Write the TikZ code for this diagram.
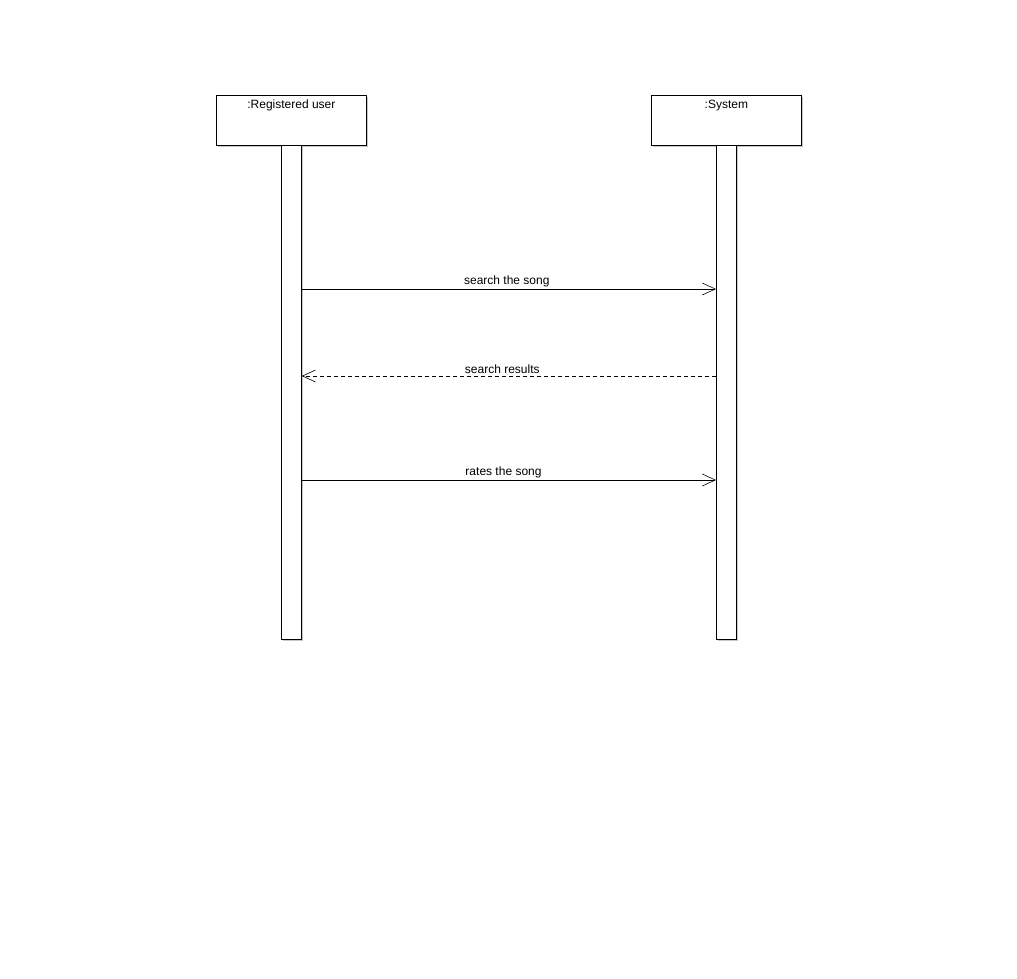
\documentclass[tikz,border=0pt]{standalone}
\usepackage{fontspec}
\setmainfont{Liberation Sans}
\usetikzlibrary{arrows.meta,positioning,shadows}
\begin{document}
\begin{tikzpicture}[x=1pt,y=1pt,
  font=\fontsize{12}{14}\selectfont,
  shadowed/.style={drop shadow={shadow xshift=2pt, shadow yshift=-2pt, fill=black!22, opacity=1}},
  headbox/.style={draw, line width=0.8pt, fill=white, shadowed, minimum width=150pt, minimum height=50pt, inner sep=0pt, anchor=north west},
  bar/.style={draw, line width=0.8pt, fill=white, shadowed, minimum width=20pt, minimum height=494pt, inner sep=0pt, anchor=north west},
  msg/.style={line width=0.6pt, -{Straight Barb[length=13pt,width=12pt,line width=0.6pt]}},
  reply/.style={msg, dash pattern=on 4pt off 3pt},
  lbl/.style={anchor=south, inner sep=1pt}
]
\useasboundingbox (0,0) rectangle (1017,-978);
\fill[white] (0,0) rectangle (1017,-978);
% participants
\node[headbox] (user) at (216,-95) {};
\node[anchor=north, inner sep=0pt] (usert) at ([yshift=-4.5pt]user.north) {:Registered user};
\node[headbox] (sys) at (651,-95) {};
\node[anchor=north, inner sep=0pt] (syst) at ([yshift=-4.5pt]sys.north) {:System};
% activation bars
\node[bar] (ubar) at (281,-145) {};
\node[bar] (sbar) at (716,-145) {};
% message points
\coordinate (m1a) at (ubar.east |- 0,-289);
\coordinate (m1b) at (sbar.west |- 0,-289);
\coordinate (m2a) at (sbar.west |- 0,-376);
\coordinate (m2b) at (ubar.east |- 0,-376);
\coordinate (m3a) at (ubar.east |- 0,-480);
\coordinate (m3b) at (sbar.west |- 0,-480);
% messages
\draw[msg] (m1a) -- (m1b) node[lbl, pos=0.495, yshift=1pt] {search the song};
\draw[reply] (m2a) -- (m2b) node[lbl, pos=0.516, yshift=1pt] {search results};
\draw[msg] (m3a) -- (m3b) node[lbl, pos=0.487, yshift=1pt] {rates the song};
\end{tikzpicture}
\end{document}
